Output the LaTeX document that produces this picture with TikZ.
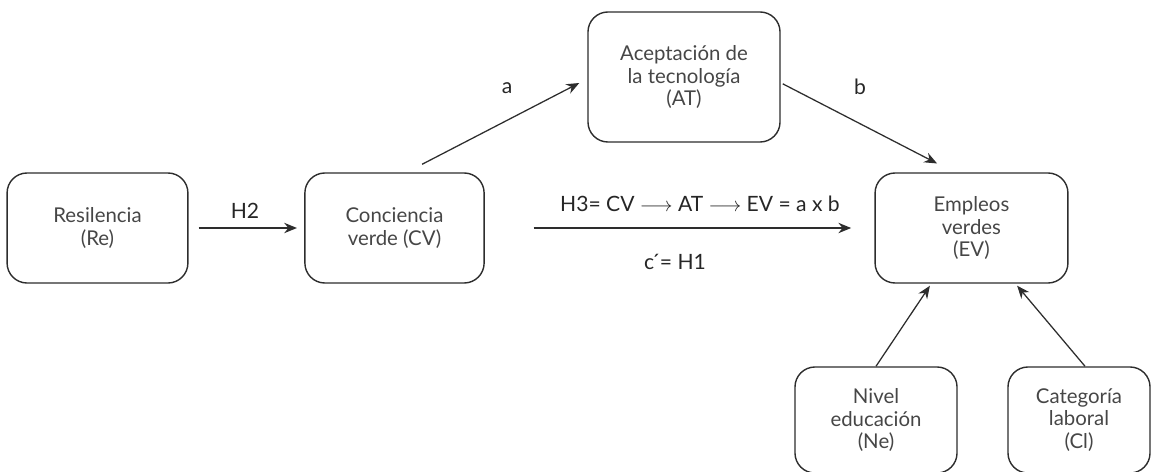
\documentclass[tikz,border=0pt]{standalone}
\usepackage{fontspec}
\setmainfont{Lato}
\usetikzlibrary{arrows.meta}
\definecolor{linea}{RGB}{45,45,45}
\definecolor{texto}{RGB}{70,70,70}

\begin{document}
\begin{tikzpicture}[>={Stealth[length=3.2mm,width=2.6mm]}, x=0.025cm, y=-0.025cm,
  caja/.style={draw=linea, line width=1pt, rounded corners=0.5cm, align=center,
    text=texto, font=\fontsize{14.5}{16.2}\selectfont, inner sep=0pt},
  flecha/.style={->, draw=linea, line width=0.9pt},
  etiq/.style={text=black!85, font=\fontsize{15}{17}\selectfont}]
\useasboundingbox (0,0) rectangle (1154,472);

\node[caja, minimum width=4.52cm, minimum height=2.75cm](Re) at (97.5,228){Resilencia\\(Re)};
\node[caja, minimum width=4.48cm, minimum height=2.75cm](CV) at (394.5,228){Conciencia\\verde (CV)};
\node[caja, minimum width=4.8cm, minimum height=3.25cm](AT) at (684,77){Aceptación de\\la tecnología\\(AT)};
\node[caja, minimum width=4.82cm, minimum height=2.75cm](EV) at (971.5,228){Empleos\\verdes\\(EV)};
\node[caja, minimum width=4.05cm, minimum height=2.65cm](Ne) at (876,420){Nivel\\educación\\(Ne)};
\node[caja, minimum width=3.55cm, minimum height=2.65cm](Cl) at (1079,420){Categoría\\laboral\\(Cl)};

\draw[flecha, shorten <=0.25cm, shorten >=0.18cm](Re)--(CV);
\draw[flecha, shorten <=1.22cm, shorten >=0.58cm](CV)--(EV);
\draw[flecha]([xshift=0.69cm, yshift=0.2cm]CV.north)--([xshift=-0.2cm, yshift=-0.15cm]AT.west);
\draw[flecha]([xshift=0.05cm, yshift=-0.17cm]AT.east)--([xshift=-0.86cm, yshift=0.22cm]EV.north);
\draw[flecha](Ne.north)--([xshift=-1.04cm, yshift=-0.05cm]EV.south);
\draw[flecha]([xshift=0.15cm]Cl.north)--([xshift=1.14cm, yshift=-0.05cm]EV.south);

\node[etiq](lH2) at (245,211){H2};
\node[etiq](la) at (507,88){a};
\node[etiq](lb) at (860,87){b};
\node[etiq](lH3) at (700,204){H3= CV $\longrightarrow$ AT $\longrightarrow$ EV = a x b};
\node[etiq](lH1) at (675,262){c\kern-2pt´= H1};
\end{tikzpicture}
\end{document}
